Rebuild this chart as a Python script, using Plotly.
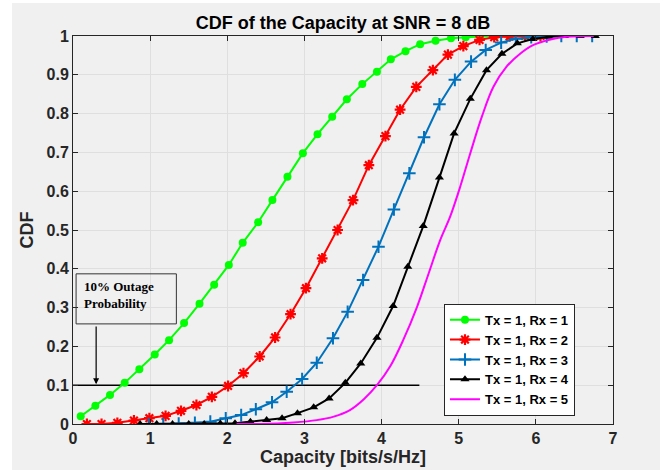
import plotly.graph_objects as go

# ---------------- data ----------------
x_rx1 = [0.10, 0.29, 0.48, 0.67, 0.86, 1.06, 1.245, 1.44, 1.64, 1.83, 2.02, 2.20, 2.40, 2.585,
         2.78, 2.98, 3.17, 3.36, 3.55, 3.75, 3.94, 4.12, 4.31, 4.50, 4.70, 4.90, 5.09, 5.28,
         5.47, 5.66, 5.86, 6.05]
y_rx1 = [0.02, 0.047, 0.075, 0.106, 0.141, 0.179, 0.216, 0.26, 0.31, 0.359, 0.41, 0.467, 0.52,
         0.577, 0.637, 0.698, 0.747, 0.792, 0.837, 0.876, 0.908, 0.94, 0.961, 0.979, 0.988,
         0.994, 0.997, 0.999, 1.0, 1.0, 1.0, 1.0]

x_rx2 = [0.18, 0.37, 0.575, 0.79, 0.99, 1.20, 1.40, 1.60, 1.80, 2.01, 2.21, 2.42, 2.62, 2.82,
         3.02, 3.23, 3.43, 3.63, 3.835, 4.05, 4.24, 4.45, 4.665, 4.86, 5.06, 5.27, 5.46, 5.66,
         5.86, 6.06]
y_rx2 = [0.0, 0.0, 0.003, 0.009, 0.015, 0.021, 0.034, 0.049, 0.07, 0.098, 0.131, 0.174, 0.223,
         0.283, 0.35, 0.427, 0.5, 0.577, 0.667, 0.742, 0.81, 0.869, 0.912, 0.952, 0.974, 0.99,
         0.997, 0.999, 1.0, 1.0]

x_rx3 = [0.98, 1.17, 1.37, 1.58, 1.78, 1.98, 2.18, 2.37, 2.58, 2.77, 2.97, 3.16, 3.37, 3.56,
         3.76, 3.96, 4.16, 4.36, 4.55, 4.75, 4.95, 5.16, 5.35, 5.55, 5.74, 5.94, 6.14, 6.33,
         6.53, 6.73]
y_rx3 = [0.0, 0.0, 0.001, 0.003, 0.006, 0.015, 0.023, 0.038, 0.056, 0.083, 0.116, 0.158, 0.221,
         0.289, 0.371, 0.457, 0.553, 0.646, 0.739, 0.824, 0.887, 0.934, 0.964, 0.983, 0.993,
         0.997, 0.999, 1.0, 1.0, 1.0]

x_rx4 = [0.87, 1.085, 1.29, 1.50, 1.70, 1.91, 2.10, 2.30, 2.51, 2.71, 2.91, 3.12, 3.32, 3.53,
         3.73, 3.94, 4.15, 4.34, 4.54, 4.75, 4.94, 5.15, 5.36, 5.56, 5.76, 5.96, 6.165, 6.37,
         6.575, 6.77]
y_rx4 = [0.0, 0.0, 0.0, 0.0, 0.0, 0.001, 0.002, 0.006, 0.01, 0.015, 0.028, 0.043, 0.066, 0.106,
         0.156, 0.222, 0.304, 0.405, 0.51, 0.635, 0.749, 0.838, 0.912, 0.954, 0.981, 0.992,
         0.998, 1.0, 1.0, 1.0]

x_rx5 = [2.12, 2.43, 2.86, 3.16, 3.38, 3.59, 3.77, 3.94, 4.11, 4.28, 4.46, 4.61, 4.76, 4.89,
         5.02, 5.15, 5.30, 5.45, 5.62, 5.80, 5.97, 6.19, 6.40, 6.75]
y_rx5 = [0.0, 0.0, 0.004, 0.01, 0.019, 0.036, 0.064, 0.1, 0.148, 0.216, 0.302, 0.388, 0.474,
         0.535, 0.612, 0.698, 0.792, 0.869, 0.921, 0.955, 0.977, 0.991, 0.998, 1.0]

names = ["Tx = 1, Rx = 1", "Tx = 1, Rx = 2", "Tx = 1, Rx = 3", "Tx = 1, Rx = 4", "Tx = 1, Rx = 5"]

outage_x = [0, 4.49]
outage_y = [0.1, 0.1]

x_ticks = [0, 1, 2, 3, 4, 5, 6, 7]
y_ticks = [0, 0.1, 0.2, 0.3, 0.4, 0.5, 0.6, 0.7, 0.8, 0.9, 1]
y_tick_text = ["0", "0.1", "0.2", "0.3", "0.4", "0.5", "0.6", "0.7", "0.8", "0.9", "1"]

# ---------------- figure ----------------
FONT = "Liberation Sans, Arial, Helvetica, sans-serif"
fig = go.Figure()

fig.add_trace(go.Scatter(x=outage_x, y=outage_y, mode="lines", showlegend=False,
                         line=dict(color="black", width=1.5), hoverinfo="skip"))

fig.add_trace(go.Scatter(x=x_rx1, y=y_rx1, mode="lines+markers", name="<b>%s</b>" % names[0],
                         line=dict(color="#00ff00", width=2),
                         marker=dict(symbol="circle", size=8, color="#00ff00")))
fig.add_trace(go.Scatter(x=x_rx2, y=y_rx2, mode="lines+markers", name="<b>%s</b>" % names[1],
                         line=dict(color="#ff0000", width=2),
                         marker=dict(symbol="asterisk-open", size=9,
                                     line=dict(color="#ff0000", width=2.2))))
fig.add_trace(go.Scatter(x=x_rx3, y=y_rx3, mode="lines+markers", name="<b>%s</b>" % names[2],
                         line=dict(color="#0072bd", width=2),
                         marker=dict(symbol="cross-thin-open", size=9,
                                     line=dict(color="#0072bd", width=2))))
fig.add_trace(go.Scatter(x=x_rx4, y=y_rx4, mode="lines+markers", name="<b>%s</b>" % names[3],
                         line=dict(color="black", width=2),
                         marker=dict(symbol="triangle-up", size=8, color="black")))
fig.add_trace(go.Scatter(x=x_rx5, y=y_rx5, mode="lines", name="<b>%s</b>" % names[4],
                         line=dict(color="#ff00ff", width=2, shape="spline")))

# gray figure background (MATLAB style)
fig.add_shape(type="rect", xref="paper", yref="paper", x0=-0.113, x1=1.087, y0=-0.13, y1=1.085,
              fillcolor="#f0f0f0", line=dict(width=0), layer="below")

# outage annotation box
fig.add_shape(type="rect", xref="x", yref="y", x0=0.04, x1=1.34, y0=0.258, y1=0.387,
              line=dict(color="#333333", width=1), fillcolor="rgba(0,0,0,0)", layer="above")
fig.add_annotation(x=0.12, y=0.38, xref="x", yref="y", xanchor="left", yanchor="top",
                   text="<b>10% Outage<br>Probability</b>", showarrow=False, align="left",
                   font=dict(family="Liberation Serif, Times New Roman, serif", size=13,
                             color="black"))
fig.add_annotation(x=0.30, y=0.1, ax=0.30, ay=0.255, xref="x", yref="y", axref="x", ayref="y",
                   text="", showarrow=True, arrowhead=2, arrowsize=1, arrowwidth=1.2,
                   arrowcolor="black", standoff=1)

axis_common = dict(showgrid=True, gridcolor="#dfdfdf", gridwidth=1, zeroline=False,
                   showline=True, linecolor="#262626", linewidth=1, mirror="allticks",
                   ticks="inside", ticklen=5, tickcolor="#262626", automargin=False,
                   tickfont=dict(family=FONT, size=16, color="#262626"))

fig.update_layout(
    width=666, height=470,
    margin=dict(l=73, r=53, t=36, b=46),
    paper_bgcolor="white", plot_bgcolor="white",
    font=dict(family=FONT, color="#262626"),
    title=dict(text="<b>CDF of the Capacity at SNR = 8 dB</b>", x=0.5, xref="paper",
               xanchor="center", y=1 - 23 / 470, yref="container", yanchor="middle",
               font=dict(family=FONT, size=18, color="black")),
    xaxis=dict(range=[0, 7], tickvals=x_ticks,
               ticktext=["<b>%d</b>" % v for v in x_ticks],
               title=dict(text="<b>Capacity [bits/s/Hz]</b>", standoff=1,
                          font=dict(family=FONT, size=18, color="#262626")),
               **axis_common),
    yaxis=dict(range=[0, 1], tickvals=y_ticks,
               ticktext=["<b>%s</b>" % t for t in y_tick_text],
               title=dict(text="<b>CDF</b>", standoff=8,
                          font=dict(family=FONT, size=18, color="#262626")),
               **axis_common),
    legend=dict(x=0.687, y=0.31, xanchor="left", yanchor="top",
                bgcolor="white", bordercolor="#262626", borderwidth=1,
                font=dict(family=FONT, size=13, color="black"),
                itemwidth=30, tracegroupgap=0),
    showlegend=True,
)

fig.write_html("out.html")
